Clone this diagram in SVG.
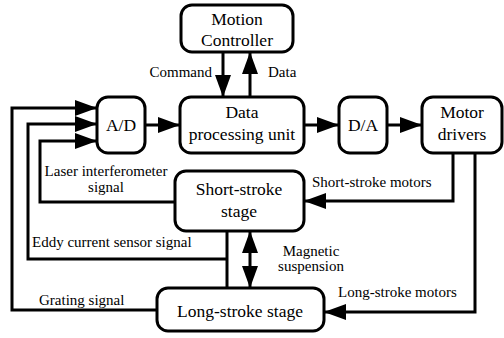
<svg xmlns="http://www.w3.org/2000/svg" width="504" height="338" viewBox="0 0 504 338">
  <defs>
    <marker id="arrow" markerUnits="userSpaceOnUse" markerWidth="22" markerHeight="16" refX="22" refY="8" orient="auto">
      <path d="M0,0 L22,8 L0,16 Z" fill="#000"/>
    </marker>
    <marker id="arrowStart" markerUnits="userSpaceOnUse" markerWidth="22" markerHeight="16" refX="22" refY="8" orient="auto-start-reverse">
      <path d="M0,0 L22,8 L0,16 Z" fill="#000"/>
    </marker>
  </defs>
  <style>
    .box { fill: #fff; stroke: #000; stroke-width: 3; }
    .wire { fill: none; stroke: #000; stroke-width: 3; stroke-linejoin: miter; }
    .arr { marker-end: url(#arrow); }
    .node { font-size: 17.5px; text-anchor: middle; }
    .lbl { font-size: 15px; }
  </style>

  <rect width="504" height="338" fill="#fff"/>

  <!-- connectors -->
  <g id="connectors">
    <!-- controller / processing unit -->
    <line class="wire arr" x1="223" y1="52" x2="223" y2="97"/>
    <line class="wire arr" x1="250" y1="97" x2="250" y2="52"/>
    <!-- forward chain -->
    <line class="wire arr" x1="145" y1="125" x2="180" y2="125"/>
    <line class="wire arr" x1="304" y1="125" x2="339" y2="125"/>
    <line class="wire arr" x1="387" y1="125" x2="422" y2="125"/>
    <!-- feedback signals into A/D -->
    <polyline class="wire arr" points="157,310 12,310 12,108 97,108"/>
    <polyline class="wire arr" points="227,259 28,259 28,124 97,124"/>
    <polyline class="wire arr" points="175,202 40,202 40,141 97,141"/>
    <line class="wire" x1="227" y1="231" x2="227" y2="288"/>
    <!-- motor drives -->
    <polyline class="wire arr" points="453,153 453,201 304,201"/>
    <polyline class="wire arr" points="475,153 475,312 324,312"/>
    <!-- magnetic suspension -->
    <line class="wire" x1="250" y1="231" x2="250" y2="288" marker-start="url(#arrowStart)" marker-end="url(#arrow)"/>
  </g>

  <g font-family="serif" fill="#000">
  <g font-family="Liberation Serif">
    <g id="motion-controller">
      <rect class="box" x="181" y="5" width="112" height="47" rx="11"/>
      <text class="node" x="237" y="25">Motion</text>
      <text class="node" x="237" y="46">Controller</text>
    </g>

    <g id="ad">
      <rect class="box" x="97" y="97" width="48" height="56" rx="11"/>
      <text class="node" x="121" y="131">A/D</text>
    </g>

    <g id="data-processing">
      <rect class="box" x="180" y="97" width="124" height="56" rx="11"/>
      <text class="node" x="242" y="118">Data</text>
      <text class="node" x="242" y="140">processing unit</text>
    </g>

    <g id="da">
      <rect class="box" x="339" y="97" width="48" height="56" rx="11"/>
      <text class="node" x="363" y="131">D/A</text>
    </g>

    <g id="motor-drivers">
      <rect class="box" x="422" y="97" width="80" height="56" rx="11"/>
      <text class="node" x="462" y="118">Motor</text>
      <text class="node" x="462" y="140">drivers</text>
    </g>

    <g id="short-stroke-stage">
      <rect class="box" x="175" y="171" width="129" height="60" rx="11"/>
      <text class="node" x="239" y="195">Short-stroke</text>
      <text class="node" x="239" y="217">stage</text>
    </g>

    <g id="long-stroke-stage">
      <rect class="box" x="157" y="288" width="167" height="43" rx="11"/>
      <text class="node" x="240" y="317">Long-stroke stage</text>
    </g>

    <!-- connector labels -->
    <g id="labels">
      <text class="lbl" x="212" y="77" text-anchor="end">Command</text>
      <text class="lbl" x="268" y="77">Data</text>
      <text class="lbl" x="106" y="176" text-anchor="middle">Laser interferometer</text>
      <text class="lbl" x="106" y="192" text-anchor="middle">signal</text>
      <text class="lbl" x="32" y="247">Eddy current sensor signal</text>
      <text class="lbl" x="39" y="305">Grating signal</text>
      <text class="lbl" x="312" y="187">Short-stroke motors</text>
      <text class="lbl" x="311" y="256" text-anchor="middle">Magnetic</text>
      <text class="lbl" x="311" y="271" text-anchor="middle">suspension</text>
      <text class="lbl" x="338" y="297">Long-stroke motors</text>
    </g>
  </g>
  </g>
</svg>
